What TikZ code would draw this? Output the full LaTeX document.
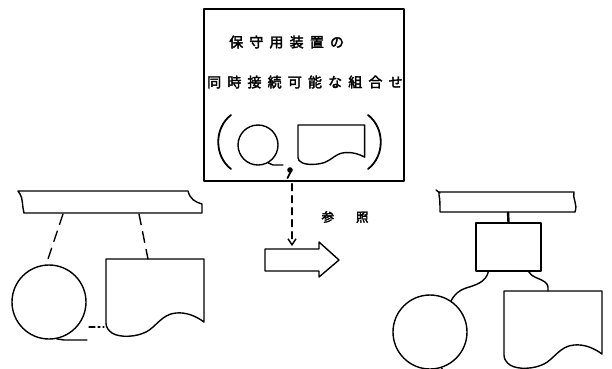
\documentclass[tikz,border=0pt]{standalone}
\usepackage{fontspec}
\newfontfamily\cjk[FakeBold=2.5]{Noto Sans CJK JP}
\usetikzlibrary{arrows.meta,calc}
\tikzset{
  ln/.style={line width=1.4pt, line join=round, line cap=round},
  dsh/.style={ln, dash pattern=on 11pt off 7pt},
  docshape/.pic={\draw[pic actions] (0,0) -- (98,0) -- (98,63)
     .. controls (90,57) and (80,53) .. (70,54)
     .. controls (56,55) and (50,68) .. (40,73)
     .. controls (30,78) and (14,79) .. (6,74)
     .. controls (2,71) and (0,68) .. (0,64) -- cycle;},
  jtext/.style={font=\cjk\fontsize{14pt}{16pt}\selectfont\addfontfeature{LetterSpace=44}, anchor=west, inner sep=0pt},
  tape/.style={circle, draw, ln, inner sep=0pt},
  ghost/.style={inner sep=0pt, anchor=north west}
}
\begin{document}
\begin{tikzpicture}[x=1pt,y=-1pt]
\useasboundingbox (0,0) rectangle (612,368);
\clip (0,0) rectangle (612,368);

% ---------- top box ----------
\node[draw, ln, minimum width=200pt, minimum height=172pt, inner sep=0pt] (top) at (304,95) {};
\node[jtext] (t1) at (229,42) {保守用装置の};
\node[jtext] (t2) at (207,82) {同時接続可能な組合せ};
% parentheses
\draw[ln, line width=1.8pt] (231,115) .. controls (214,128) and (214,156) .. (231,169);
\draw[ln, line width=1.8pt] (368,115) .. controls (385,128) and (385,156) .. (368,169);
% small tape symbol
\node[tape, minimum size=40pt] (scirc) at (258,145) {};
\draw[ln] (scirc.-60) .. controls (270,164) .. (273,165) -- (283,165);
% comma
\fill (290,170) circle (2.8pt);
\draw[line width=1.8pt, line cap=round] (291,171) -- (287.5,178);
% small document symbol
\node[ghost, minimum width=67pt, minimum height=40pt] (sdoc) at (298,125) {};
\pic[ln, xscale=0.68, yscale=0.51] at (sdoc.north west) {docshape};

% ---------- reference arrow ----------
\coordinate (ds) at ($(top.south)+(-12,2)$);
\coordinate (ah) at (292,249);
\draw[ln, dash pattern=on 7pt off 5pt, -{Straight Barb[length=6pt,width=8pt]}] (ds) -- ($(ah)+(0,-3)$);
\draw[ln] (265,249) coordinate (ba) -- (319,249) -- (319,242) -- (339,260) -- (319,277) -- (319,271) -- (265,271) -- cycle;
\node[font=\cjk\fontsize{12.5pt}{14pt}\selectfont, inner sep=0pt] (ref) at (345,217) {参\hspace{22pt}照};

% ---------- left configuration ----------
\draw[ln] (18,191) -- (188,191) .. controls (190,199) and (195,202) .. (202,204) -- (202,213) -- (24,213)
   .. controls (22,206) and (23,198) .. (20,194) -- cycle;
\coordinate (lb1) at (63,214);
\coordinate (lb2) at (139,214);
\node[tape, minimum size=74pt] (lcirc) at (49,302) {};
\draw[ln] (lcirc.-78) .. controls (60,340) .. (64,340) -- (87,340);
\node[ghost, minimum width=98pt, minimum height=78pt] (ldoc) at (106,259) {};
\pic[ln] at (ldoc.north west) {docshape};
\draw[dsh] (lb1) -- (48,259);
\draw[dsh] (lb2) -- ($(ldoc.north west)+(42,0)$);
\coordinate (lk1) at (89,327);
\coordinate (lk2) at (104,327);
\draw[ln, line width=1.1pt, dash pattern=on 6pt off 3pt on 2pt off 3pt] (lk1) -- (lk2);

% ---------- right configuration ----------
\draw[ln] (439,192) -- (574,192) .. controls (572,198) and (578,204) .. (575,212) -- (440,212)
   .. controls (440,205) and (440,199) .. (439,195) -- cycle;
\draw[ln] (436,190) -- (440,193);
\coordinate (rb) at (508,212);
\node[draw, ln, minimum width=65pt, minimum height=48pt, inner sep=0pt] (rbox) at (508.5,247) {};
\draw[line width=2.4pt] (rb) -- (rbox.north);
\node[tape, minimum size=74pt] (rcirc) at (430,332) {};
\draw[ln] (rcirc.-72) .. controls (442,370) .. (446,371) -- (470,371);
\node[ghost, minimum width=98pt, minimum height=78pt] (rdoc) at (504,291) {};
\pic[ln] at (rdoc.north west) {docshape};
\draw[ln] ($(rbox.south west)+(13,0)$) .. controls (486,282) and (476,285) .. (466,288)
   .. controls (458,291) and (455,294) .. (rcirc.56);
\draw[ln] ($(rbox.south east)+(-13,0)$) .. controls (532,278) and (540,278) .. (545,282)
   .. controls (548,285) .. ($(rdoc.north west)+(44,0)$);
\end{tikzpicture}
\end{document}
